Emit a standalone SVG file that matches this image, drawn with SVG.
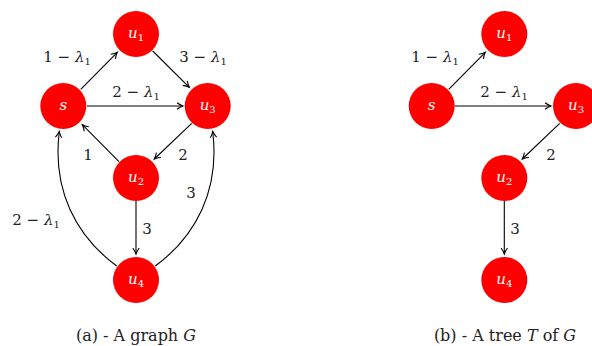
<svg xmlns="http://www.w3.org/2000/svg" width="592" height="346" viewBox="0 0 592 346">
<style>
.node circle{fill:#ff0000;}
.node text{fill:#ffffff;font-family:"DejaVu Serif","Liberation Serif",serif;font-style:italic;font-size:15px;text-anchor:middle;}
.node tspan.sub{font-size:10px;font-style:normal;}
.edges path{fill:none;stroke:#000;stroke-width:1.1;marker-end:url(#arr);}
.lbl{font-family:"DejaVu Serif","Liberation Serif",serif;font-size:15px;fill:#222;text-anchor:middle;}
.lbl tspan.sub{font-size:10px;}
.cap{font-family:"DejaVu Serif","Liberation Serif",serif;font-size:16px;fill:#222;text-anchor:middle;}
</style>
<defs>
<marker id="arr" markerWidth="10" markerHeight="10" refX="7.5" refY="4" orient="auto" markerUnits="userSpaceOnUse">
<path d="M1.5,0.8 Q4.5,3 7.5,4 Q4.5,5 1.5,7.2" fill="none" stroke="#000" stroke-width="1.1"/>
</marker>
</defs>
<g class="edges" id="edges">
<path d="M80.7,89.3 L117.3,52.3"/>
<path d="M152.7,51 L189.3,87.3"/>
<path d="M87,106 L183,106"/>
<path d="M191.7,123.3 L154.3,159"/>
<path d="M119,161.7 L82.3,124.7"/>
<path d="M136,201 L136,254"/>
<path d="M116.7,266 C76,236 52,190 59.3,131.5"/>
<path d="M155.3,266 C196,236 220,190 212.7,131.5"/>
<path d="M448.7,89.3 L485.3,52.3"/>
<path d="M455,106 L551,106"/>
<path d="M559.7,123.3 L522.3,159"/>
<path d="M504.3,201 L504.3,254"/>
</g>
<g id="labels">
<text class="lbl" x="67" y="62">1 − <tspan font-style="italic">λ</tspan><tspan class="sub" dy="3">1</tspan></text>
<text class="lbl" x="203" y="62">3 − <tspan font-style="italic">λ</tspan><tspan class="sub" dy="3">1</tspan></text>
<text class="lbl" x="136" y="97">2 − <tspan font-style="italic">λ</tspan><tspan class="sub" dy="3">1</tspan></text>
<text class="lbl" x="88" y="160">1</text>
<text class="lbl" x="183" y="160">2</text>
<text class="lbl" x="191" y="198">3</text>
<text class="lbl" x="36" y="225">2 − <tspan font-style="italic">λ</tspan><tspan class="sub" dy="3">1</tspan></text>
<text class="lbl" x="147" y="234">3</text>
<text class="lbl" x="435" y="62">1 − <tspan font-style="italic">λ</tspan><tspan class="sub" dy="3">1</tspan></text>
<text class="lbl" x="504" y="97">2 − <tspan font-style="italic">λ</tspan><tspan class="sub" dy="3">1</tspan></text>
<text class="lbl" x="551" y="160">2</text>
<text class="lbl" x="515" y="234">3</text>
</g>
<g class="node" id="a_u1"><circle cx="136" cy="34" r="23"/><text x="136" y="38">u<tspan class="sub" dy="3">1</tspan></text></g>
<g class="node" id="a_s"><circle cx="63.3" cy="106" r="23"/><text x="63.3" y="110">s</text></g>
<g class="node" id="a_u3"><circle cx="207.7" cy="106" r="23"/><text x="207.7" y="110">u<tspan class="sub" dy="3">3</tspan></text></g>
<g class="node" id="a_u2"><circle cx="136" cy="178" r="23"/><text x="136" y="182">u<tspan class="sub" dy="3">2</tspan></text></g>
<g class="node" id="a_u4"><circle cx="136" cy="280" r="23"/><text x="136" y="284">u<tspan class="sub" dy="3">4</tspan></text></g>
<g class="node" id="b_u1"><circle cx="504.3" cy="34" r="23"/><text x="504.3" y="38">u<tspan class="sub" dy="3">1</tspan></text></g>
<g class="node" id="b_s"><circle cx="431.7" cy="106" r="23"/><text x="431.7" y="110">s</text></g>
<g class="node" id="b_u3"><circle cx="576" cy="106" r="23"/><text x="576" y="110">u<tspan class="sub" dy="3">3</tspan></text></g>
<g class="node" id="b_u2"><circle cx="504.3" cy="178" r="23"/><text x="504.3" y="182">u<tspan class="sub" dy="3">2</tspan></text></g>
<g class="node" id="b_u4"><circle cx="504.3" cy="280" r="23"/><text x="504.3" y="284">u<tspan class="sub" dy="3">4</tspan></text></g>
<g id="captions">
<text class="cap" x="136" y="341">(a) - A graph <tspan font-style="italic">G</tspan></text>
<text class="cap" x="505" y="341">(b) - A tree <tspan font-style="italic">T</tspan> of <tspan font-style="italic">G</tspan></text>
</g>
</svg>
